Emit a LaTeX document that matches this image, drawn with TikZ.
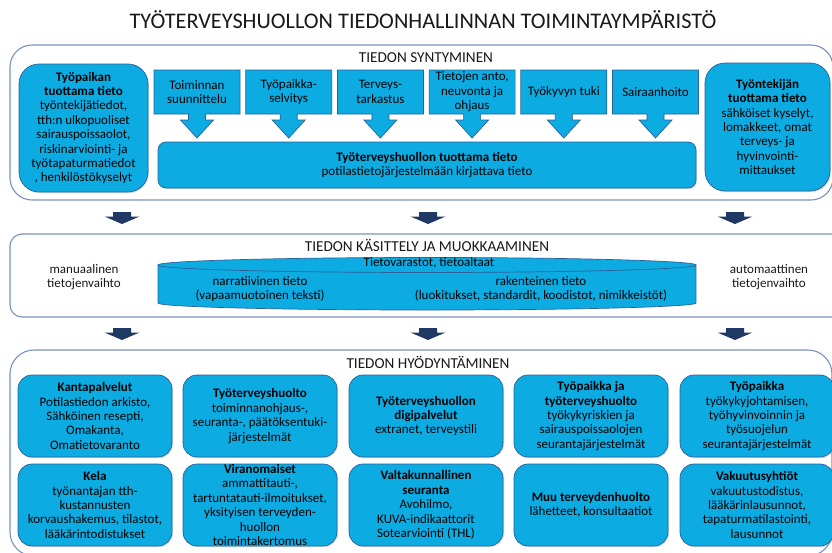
\documentclass[tikz,border=0pt]{standalone}
\usepackage{fontspec}
\setmainfont{Carlito}
\usetikzlibrary{shadows}
\definecolor{boxfill}{RGB}{12,172,226}
\definecolor{boxline}{RGB}{45,95,155}
\definecolor{frameline}{RGB}{120,145,190}
\definecolor{darkarrow}{RGB}{31,56,100}
\definecolor{titletext}{RGB}{25,25,25}
\newcommand\boxtxt{\fontsize{13}{14.4}\selectfont}
\newcommand\calloutbox[3]{%
  \draw[callbox] (#1-43,70) -- (#1+43,70) -- (#1+43,114) -- (#1+8.5,114) -- (#1+8.5,120) -- (#1+16.5,120) -- (#1,138) -- (#1-16.5,120) -- (#1-8.5,120) -- (#1-8.5,114) -- (#1-43,114) -- cycle;
  \node[boxtext] (#2) at (#1,92) {#3};}
\newcommand\fatarrow[2]{%
  \fill[darkarrow] (#1-9,#2) -- (#1+9,#2) -- (#1+9,#2+4.5) -- (#1+17.5,#2+4.5) -- (#1,#2+12) -- (#1-17.5,#2+4.5) -- (#1-9,#2+4.5) -- cycle;}
\begin{document}
\begin{tikzpicture}[x=1pt,y=-1pt,
  frame/.style={draw=frameline, line width=1.1pt, fill=white},
  bluebox/.style={draw=boxline, fill=boxfill, line width=0.7pt, align=center, inner sep=0pt, font=\boxtxt,
     drop shadow={shadow xshift=1pt, shadow yshift=-1.2pt, opacity=0.25}},
  callbox/.style={draw=boxline, fill=boxfill, line width=0.7pt},
  boxtext/.style={align=center, inner sep=0pt, font=\boxtxt},
  plaintext/.style={align=center, inner sep=0pt, font=\boxtxt, text=titletext},
  sectitle/.style={inner sep=0pt, font=\fontsize{15.2}{17}\selectfont, text=titletext},
  gridbox/.style={bluebox, rounded corners=14pt, minimum width=154pt, minimum height=82pt},
]
\useasboundingbox (0,0) rectangle (832,552);
\clip (0,0) rectangle (832,552);
\fill[white] (0,0) rectangle (832,552);

% main title
\node[inner sep=0pt, font=\fontsize{22.3}{24}\selectfont, text=titletext] (title) at (423,20) {TYÖTERVEYSHUOLLON TIEDONHALLINNAN TOIMINTAYMPÄRISTÖ};

% ---------- section 1 ----------
\draw[frame, rounded corners=22pt] (10,45) rectangle (833,200);
\node[sectitle] (t1) at (426,58) {TIEDON SYNTYMINEN};

\node[bluebox, rounded corners=20pt, minimum width=129pt, minimum height=128pt] (tyopaikka) at (83.5,128)
  {\textbf{Työpaikan}\\\textbf{tuottama tieto}\\työntekijätiedot,\\tth:n ulkopuoliset\\sairauspoissaolot,\\riskinarviointi- ja\\työtapaturmatiedot\\, henkilöstökyselyt};
\node[bluebox, rounded corners=20pt, minimum width=125pt, minimum height=128pt] (tyontekija) at (767.5,127)
  {\textbf{Työntekijän}\\\textbf{tuottama tieto}\\sähköiset kyselyt,\\lomakkeet, omat\\terveys- ja\\hyvinvointi-\\mittaukset};

\calloutbox{197}{c1}{Toiminnan\\suunnittelu}
\calloutbox{288.7}{c2}{Työpaikka-\\selvitys}
\calloutbox{380.4}{c3}{Terveys-\\tarkastus}
\calloutbox{472.1}{c4}{Tietojen anto,\\neuvonta ja\\ohjaus}
\calloutbox{563.8}{c5}{Työkyvyn tuki}
\calloutbox{655.5}{c6}{Sairaanhoito}

\node[bluebox, rounded corners=8pt, minimum width=538pt, minimum height=46pt] (tth) at (427,165)
  {\textbf{Työterveyshuollon tuottama tieto}\\potilastietojärjestelmään kirjattava tieto};

% arrows 1 -> 2
\fatarrow{122}{212}
\fatarrow{428}{212}
\fatarrow{735}{212}

% ---------- section 2 ----------
\draw[frame, rounded corners=12pt] (10,234) rectangle (845,317);
\node[sectitle] (t2) at (427,245) {TIEDON KÄSITTELY JA MUOKKAAMINEN};

% cylinder
\fill[boxfill] (158,265) rectangle (696,303);
\fill[boxfill] (427,303) ellipse [x radius=269pt, y radius=7pt];
\draw[boxline, line width=0.7pt] (158,265) -- (158,303) arc[start angle=180, end angle=360, x radius=269pt, y radius=7pt] -- (696,265);
\draw[boxline, fill=boxfill, line width=0.7pt] (427,265) ellipse [x radius=269pt, y radius=7.5pt];
\node[boxtext] (varasto) at (429,263) {Tietovarastot, tietoaltaat};
\node[boxtext] (narr) at (260,289) {narratiivinen tieto\\(vapaamuotoinen teksti)};
\node[boxtext] (rak) at (541,289) {rakenteinen tieto\\(luokitukset, standardit, koodistot, nimikkeistöt)};

\node[plaintext] (manual) at (84,277) {manuaalinen\\tietojenvaihto};
\node[plaintext] (auto) at (769,277) {automaattinen\\tietojenvaihto};

% arrows 2 -> 3
\fatarrow{122}{328}
\fatarrow{428}{328}
\fatarrow{735}{328}

% ---------- section 3 ----------
\draw[frame, rounded corners=24pt] (10,350) rectangle (832,556);
\node[sectitle] (t3) at (428,362) {TIEDON HYÖDYNTÄMINEN};

\node[gridbox] (kanta) at (95,416)
  {\textbf{Kantapalvelut}\\Potilastiedon arkisto,\\Sähköinen resepti,\\Omakanta,\\Omatietovaranto};
\node[gridbox] (tthuolto) at (260,416)
  {\textbf{Työterveyshuolto}\\toiminnanohjaus-,\\seuranta-, päätöksentuki-\\järjestelmät};
\node[gridbox] (digi) at (426,416)
  {\textbf{Työterveyshuollon}\\\textbf{digipalvelut}\\extranet, terveystili};
\node[gridbox] (tpjatth) at (591,416)
  {\textbf{Työpaikka ja}\\\textbf{työterveyshuolto}\\työkykyriskien ja\\sairauspoissaolojen\\seurantajärjestelmät};
\node[gridbox] (tp) at (757,416)
  {\textbf{Työpaikka}\\työkykyjohtamisen,\\työhyvinvoinnin ja\\työsuojelun\\seurantajärjestelmät};

\node[gridbox] (kela) at (95,505)
  {\textbf{Kela}\\työnantajan tth-\\kustannusten\\korvaushakemus, tilastot,\\lääkärintodistukset};
\node[gridbox] (viran) at (260,505)
  {\textbf{Viranomaiset}\\ammattitauti-,\\tartuntatauti-ilmoitukset,\\yksityisen terveyden-\\huollon\\toimintakertomus};
\node[gridbox] (valta) at (426,505)
  {\textbf{Valtakunnallinen}\\\textbf{seuranta}\\Avohilmo,\\KUVA-indikaattorit\\Sotearviointi (THL)};
\node[gridbox] (muu) at (591,505)
  {\textbf{Muu terveydenhuolto}\\lähetteet, konsultaatiot};
\node[gridbox] (vakuutus) at (757,505)
  {\textbf{Vakuutusyhtiöt}\\vakuutustodistus,\\lääkärinlausunnot,\\tapaturmatilastointi,\\lausunnot};
\end{tikzpicture}
\end{document}
